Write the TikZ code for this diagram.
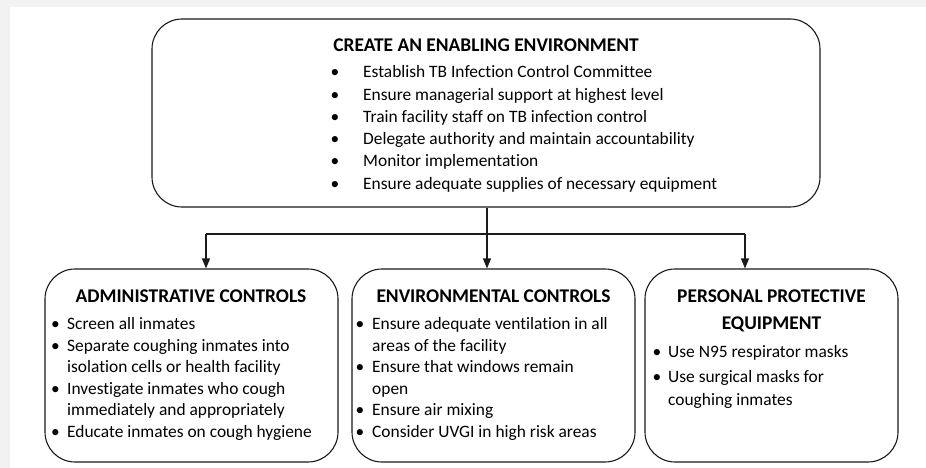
\documentclass[tikz,border=0pt]{standalone}
\usepackage{fontspec}
\setmainfont{Carlito}[Ligatures=NoCommon]
\usetikzlibrary{arrows.meta}
\definecolor{bggray}{HTML}{F2F2F2}
\definecolor{linecol}{HTML}{1A1A1A}
\begin{document}
\begin{tikzpicture}[x=1pt,y=-1pt,
  box/.style={draw=linecol, line width=1.1pt, rounded corners=30pt, inner sep=0pt},
  txt/.style={inner sep=0pt, anchor=base west, text=black, font=\fontsize{17.4}{21}\selectfont},
  ttl/.style={inner sep=0pt, anchor=base, text=black, font=\fontsize{19.4}{23}\selectfont\bfseries},
  bul/.style={inner sep=0pt, anchor=base, font=\fontsize{17.4}{21}\selectfont},
  conn/.style={line width=1.1pt, draw=linecol},
  arr/.style={conn, -{Triangle[length=10pt,width=8pt]}}]
\useasboundingbox (0,0) rectangle (926,468);
\fill[bggray] (0,0) rectangle (926,468);
\fill[white] (10,7) rectangle (926,468);

% boxes
\node[box, minimum width=668pt, minimum height=188pt] (top) at (486,113) {};
\node[box, minimum width=293pt, minimum height=193pt] (adm) at (191.5,365.5) {};
\node[box, minimum width=283pt, minimum height=193pt] (env) at (493.5,365.5) {};
\node[box, minimum width=253pt, minimum height=193pt] (ppe) at (771.5,365.5) {};

% top box text
\node[ttl] (ttop) at (486,52) {CREATE AN ENABLING ENVIRONMENT};
\node[bul] (tb1) at (335,78) {•};
\node[txt] (t1) at (363,78) {Establish TB Infection Control Committee};
\node[bul] (tb2) at (335,100.2) {•};
\node[txt] (t2) at (363,100.2) {Ensure managerial support at highest level};
\node[bul] (tb3) at (335,122.4) {•};
\node[txt] (t3) at (363,122.4) {Train facility staff on TB infection control};
\node[bul] (tb4) at (335,144.6) {•};
\node[txt] (t4) at (363,144.6) {Delegate authority and maintain accountability};
\node[bul] (tb5) at (335,166.8) {•};
\node[txt] (t5) at (363,166.8) {Monitor implementation};
\node[bul] (tb6) at (335,189) {•};
\node[txt] (t6) at (363,189) {Ensure adequate supplies of necessary equipment};

% administrative controls
\node[ttl] (tadm) at (191,302) {ADMINISTRATIVE CONTROLS};
\node[bul] (ab1) at (55.5,329.5) {•};
\node[txt] (a1) at (67,329.5) {Screen all inmates};
\node[bul] (ab2) at (55.5,351) {•};
\node[txt] (a2) at (67,351) {Separate coughing inmates into};
\node[txt] (a3) at (67,372.5) {isolation cells or health facility};
\node[bul] (ab4) at (55.5,394) {•};
\node[txt] (a4) at (67,394) {Investigate inmates who cough};
\node[txt] (a5) at (67,415.5) {immediately and appropriately};
\node[bul] (ab6) at (55.5,437) {•};
\node[txt] (a6) at (67,437) {Educate inmates on cough hygiene};

% environmental controls
\node[ttl] (tenv) at (493.5,302) {ENVIRONMENTAL CONTROLS};
\node[bul] (eb1) at (360,329.5) {•};
\node[txt] (e1) at (372,329.5) {Ensure adequate ventilation in all};
\node[txt] (e2) at (372,351) {areas of the facility};
\node[bul] (eb3) at (360,372.5) {•};
\node[txt] (e3) at (372,372.5) {Ensure that windows remain};
\node[txt] (e4) at (372,394) {open};
\node[bul] (eb5) at (360,415.5) {•};
\node[txt] (e5) at (372,415.5) {Ensure air mixing};
\node[bul] (eb6) at (360,437) {•};
\node[txt] (e6) at (372,437) {Consider UVGI in high risk areas};

% personal protective equipment
\node[ttl] (tppe1) at (771.5,302) {PERSONAL PROTECTIVE};
\node[ttl] (tppe2) at (771.5,329.5) {EQUIPMENT};
\node[bul] (pb1) at (657,357.5) {•};
\node[txt] (p1) at (668,357.5) {Use N95 respirator masks};
\node[bul] (pb2) at (657,382.5) {•};
\node[txt] (p2) at (668,382.5) {Use surgical masks for};
\node[txt] (p3) at (668,405.5) {coughing inmates};

% connectors
\coordinate (jm) at (487,234);
\coordinate (jl) at (206,234);
\coordinate (jr) at (745,234);
\draw[conn] (top.south -| jm) -- (jm);
\draw[conn] (jl) -- (jr);
\draw[arr] (jl) -- (jl |- adm.north);
\draw[arr] (jm) -- (jm |- env.north);
\draw[arr] (jr) -- (jr |- ppe.north);
\end{tikzpicture}
\end{document}
